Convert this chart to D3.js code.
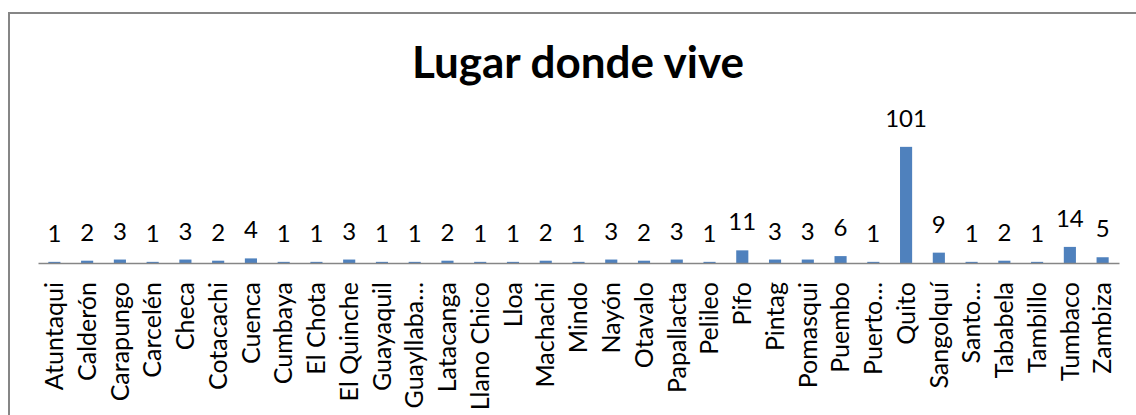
<!DOCTYPE html>
<html>
<head>
<meta charset="utf-8">
<script src="https://cdn.jsdelivr.net/npm/d3@7"></script>
<style>
  body { margin: 0; background: #fff; }
  svg { display: block; }
</style>
</head>
<body>
<div id="chart"></div>
<script>
var categories = ["Atuntaqui", "Calderón", "Carapungo", "Carcelén", "Checa", "Cotacachi", "Cuenca",
  "Cumbaya", "El Chota", "El Quinche", "Guayaquil", "Guayllaba…", "Latacanga", "Llano Chico", "Lloa",
  "Machachi", "Mindo", "Nayón", "Otavalo", "Papallacta", "Pelileo", "Pifo", "Pintag", "Pomasqui",
  "Puembo", "Puerto…", "Quito", "Sangolquí", "Santo…", "Tababela", "Tambillo", "Tumbaco", "Zambiza"];
var values = [1, 2, 3, 1, 3, 2, 4, 1, 1, 3, 1, 1, 2, 1, 1, 2, 1, 3, 2, 3, 1, 11, 3, 3, 6, 1, 101, 9, 1, 2, 1, 14, 5];
var yDomain = [0, 120];
var title = "Lugar donde vive";

drawChart();

function drawChart(){
	var width = 1136,
		height = 415;

	var plot = {left: 38, right: 1119, top: 125, bottom: 263};

	var svg = d3.select("#chart").append("svg")
		.attr("width", width)
		.attr("height", height);

	// outer frame (runs off the right/bottom edges like the original)
	svg.append("rect")
		.attr("x", 9)
		.attr("y", 13)
		.attr("width", 1200)
		.attr("height", 500)
		.attr("fill", "#fff")
		.attr("stroke", "#868686")
		.attr("stroke-width", 2);

	svg.append("text")
		.attr("x", 578)
		.attr("y", 78)
		.attr("text-anchor", "middle")
		.attr("font-family", "Lato, 'Open Sans', sans-serif")
		.attr("font-weight", "bold")
		.attr("font-size", 44)
		.attr("fill", "#000")
		.text(title);

	var x = d3.scaleBand()
		.domain(categories)
		.range([plot.left, plot.right])
		.paddingInner(0.63)
		.paddingOuter(0.315);

	var y = d3.scaleLinear()
		.domain(yDomain)
		.range([plot.bottom, plot.top]);

	var data = categories.map(function(c, i){ return {name: c, value: values[i]}; });

	svg.append("g")
		.selectAll("rect")
		.data(data)
		.enter().append("rect")
			.attr("x", function(d){ return x(d.name); })
			.attr("y", function(d){ return y(d.value); })
			.attr("width", x.bandwidth())
			.attr("height", function(d){ return y(0) - y(d.value); })
			.attr("fill", "#4f81bd");

	// value labels
	svg.append("g")
		.attr("font-family", "Lato, 'Open Sans', sans-serif")
		.attr("font-size", 24)
		.attr("text-anchor", "middle")
		.selectAll("text")
		.data(data)
		.enter().append("text")
			.attr("x", function(d){ return x(d.name) + x.bandwidth() / 2; })
			.attr("y", function(d){ return y(d.value) - 20; })
			.attr("fill", "#000")
			.text(function(d){ return d.value; });

	// category axis
	var xAxis = svg.append("g")
		.attr("transform", "translate(0," + plot.bottom + ")")
		.call(d3.axisBottom(x).tickSize(0).tickSizeOuter(0).tickPadding(0));

	xAxis.select(".domain")
		.attr("stroke", "#868686")
		.attr("stroke-width", 1.5);

	xAxis.selectAll(".tick text")
		.attr("font-family", "Lato, 'Open Sans', sans-serif")
		.attr("font-size", 25)
		.attr("fill", "#000")
		.attr("text-anchor", "end")
		.attr("transform", "rotate(-90)")
		.attr("x", -19)
		.attr("y", 0)
		.attr("dy", "0.35em");
}
</script>
</body>
</html>
